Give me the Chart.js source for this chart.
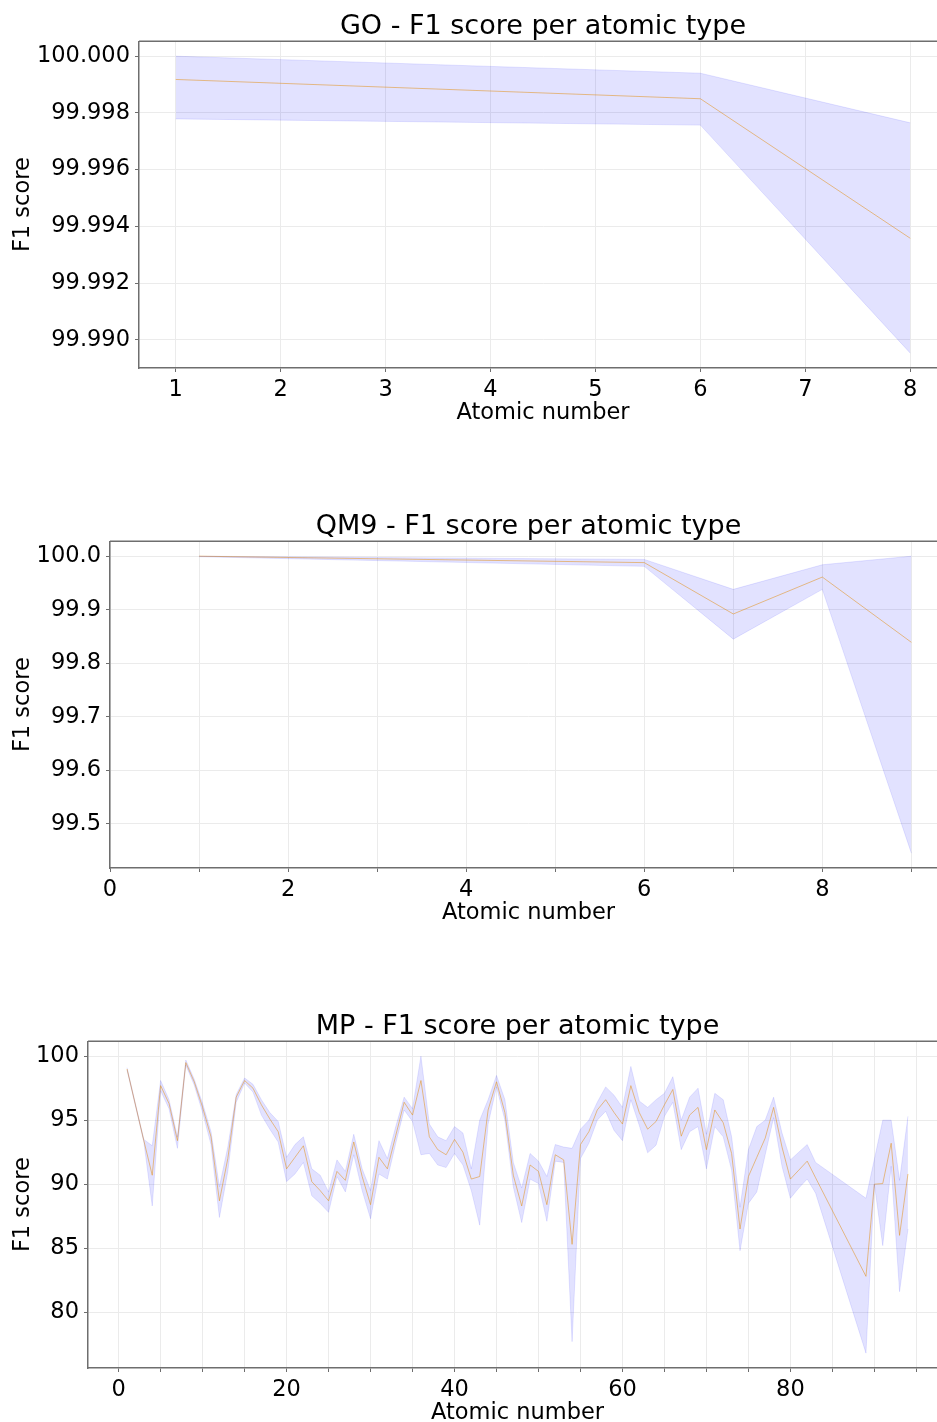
<!DOCTYPE html>
<html>
<head>
<meta charset="utf-8">
<script src="https://cdn.jsdelivr.net/npm/chart.js@4.4.1/dist/chart.umd.min.js"></script>
<style>
  html, body { margin: 0; padding: 0; background: #fff; overflow: hidden; width: 937px; height: 1422px; }
  .panel { position: absolute; left: 0; width: 960px; height: 432px; }
</style>
</head>
<body>
<div class="panel" style="top:0"><canvas id="chart-go" width="960" height="432"></canvas></div>
<div class="panel" style="top:500px"><canvas id="chart-qm9" width="960" height="432"></canvas></div>
<div class="panel" style="top:1000px"><canvas id="chart-mp" width="960" height="432"></canvas></div>
<script>
// GO
const go_z = [1, 6, 8];
const go_mean = [99.99918, 99.99850, 99.99358];
const go_upper = [100.00000, 99.99940, 99.99765];
const go_lower = [99.99779, 99.99757, 99.98953];
const go_x_ticks = [1, 2, 3, 4, 5, 6, 7, 8];
const go_x_minor = [];
const go_y_ticks = [99.990, 99.992, 99.994, 99.996, 99.998, 100.000];

// QM9
const qm9_z = [1, 6, 7, 8, 9];
const qm9_mean = [100.0, 99.988, 99.892, 99.961, 99.839];
const qm9_upper = [100.0, 99.994, 99.938, 99.984, 100.0];
const qm9_lower = [99.999, 99.981, 99.845, 99.938, 99.445];
const qm9_x_ticks = [0, 2, 4, 6, 8];
const qm9_x_minor = [1, 3, 5, 7, 9];
const qm9_y_ticks = [99.5, 99.6, 99.7, 99.8, 99.9, 100.0];

// MP
const mp_z = [1, 3, 4, 5, 6, 7, 8, 9, 10,
  11, 12, 13, 14, 15, 16, 17, 18, 19, 20,
  21, 22, 23, 24, 25, 26, 27, 28, 29, 30,
  31, 32, 33, 34, 35, 36, 37, 38, 39, 40,
  41, 42, 43, 44, 45, 46, 47, 48, 49, 50,
  51, 52, 53, 54, 55, 56, 57, 58, 59, 60,
  61, 62, 63, 64, 65, 66, 67, 68, 69, 70,
  71, 72, 73, 74, 75, 76, 77, 78, 79, 80,
  81, 82, 83,
  89, 90, 91, 92, 93, 94];
const mp_mean = [99.0, 93.4, 90.7, 97.7, 96.3, 93.4, 99.5, 98.0, 96.0,
  93.7, 88.7, 92.0, 96.8, 98.1, 97.5, 96.2, 95.1, 94.1, 91.2,
  92.1, 93.0, 90.2, 89.5, 88.7, 91.0, 90.3, 93.3, 90.6, 88.4,
  92.1, 91.2, 93.8, 96.4, 95.4, 98.1, 93.7, 92.7, 92.3, 93.5,
  92.5, 90.4, 90.6, 95.8, 98.0, 95.6, 90.7, 88.3, 91.5, 91.0,
  88.4, 92.3, 91.9, 85.3, 93.1, 94.1, 95.8, 96.6, 95.6, 94.7,
  97.7, 95.6, 94.3, 94.9, 96.2, 97.4, 93.75, 95.4, 96.0, 92.7,
  95.8, 94.8, 92.4, 86.5, 90.6, 92.1, 93.6, 96.0, 92.9, 90.4,
  91.1, 91.8, 90.5,
  82.8, 90.0, 90.05, 93.2, 86.0, 90.8];
const mp_upper = [99.1, 93.5, 93.0, 98.1, 96.6, 93.7, 99.7, 98.2, 96.3,
  94.1, 89.8, 92.9, 97.0, 98.3, 97.8, 96.6, 95.6, 94.9, 92.1,
  93.1, 93.7, 91.2, 90.7, 89.4, 91.9, 91.0, 93.9, 91.2, 89.5,
  93.4, 92.0, 94.5, 96.8, 95.9, 100.0, 94.7, 93.7, 93.4, 94.5,
  94.0, 91.2, 95.0, 96.6, 98.5, 96.6, 91.7, 89.7, 92.4, 91.8,
  90.6, 93.1, 92.9, 92.8, 94.3, 95.0, 96.4, 97.6, 96.95, 96.0,
  99.2, 96.5, 96.0, 96.6, 97.1, 98.4, 95.0, 96.8, 97.5, 93.9,
  97.1, 96.6, 93.7, 88.2, 92.7, 94.5, 95.0, 96.8, 94.0, 91.9,
  92.5, 93.1, 91.7,
  88.9, 91.95, 95.0, 95.0, 90.3, 95.3];
const mp_lower = [98.9, 93.3, 88.3, 97.3, 95.9, 92.8, 99.3, 97.75, 95.6,
  93.1, 87.4, 91.0, 96.4, 97.9, 97.2, 95.4, 94.3, 93.3, 90.2,
  90.8, 91.7, 89.1, 88.5, 87.8, 90.6, 89.4, 92.3, 89.5, 87.3,
  90.8, 90.4, 93.2, 95.8, 94.9, 92.3, 92.4, 91.5, 91.3, 92.4,
  91.5, 89.5, 86.8, 94.7, 97.6, 95.0, 89.8, 87.0, 90.4, 90.05,
  87.1, 91.8, 91.7, 77.7, 92.0, 93.2, 95.0, 95.7, 94.2, 93.4,
  96.6, 94.6, 92.45, 93.05, 95.3, 96.4, 92.7, 94.1, 94.5, 91.2,
  94.5, 93.7, 91.1, 84.8, 88.5, 89.4, 92.3, 95.2, 91.4, 88.9,
  89.7, 90.4, 89.3,
  76.8, 90.0, 85.2, 91.4, 81.6, 86.5];
const mp_x_ticks = [0, 20, 40, 60, 80];
const mp_x_minor = [5, 10, 15, 25, 30, 35, 45, 50, 55, 65, 70, 75, 85, 90, 95];
const mp_y_ticks = [80, 85, 90, 95, 100];

Chart.defaults.font.family = "'DejaVu Sans', sans-serif";

const FONT_TICK = { family: "'DejaVu Sans', sans-serif", size: 22.5 };
const SPINE = '#6e6e6e';

// top and right spine, like a matplotlib axes frame
const frameTop = {
  id: 'frameTop',
  afterDraw(chart) {
    const { ctx, chartArea: a } = chart;
    ctx.save();
    ctx.strokeStyle = SPINE;
    ctx.lineWidth = 1.5;
    ctx.beginPath();
    ctx.moveTo(a.left, a.top);
    ctx.lineTo(a.right, a.top);
    ctx.lineTo(a.right, a.bottom);
    ctx.stroke();
    ctx.restore();
  }
};

// 5% autoscale margin
function padded(lo, hi) {
  const m = (hi - lo) * 0.05;
  return [lo - m, hi + m];
}

function pts(xs, ys) {
  return xs.map((x, i) => ({ x: x, y: ys[i] }));
}

function createChart(id, title, z, mean, upper, lower, xTicks, xMinor, yTicks, decimals, axisLeft, xMinFixed) {
  const [xLo, xHi] = padded(Math.min(...z), Math.max(...z));
  const [yLo, yHi] = padded(Math.min(...lower), Math.max(...upper));
  const allX = xTicks.concat(xMinor).sort((a, b) => a - b);

  return new Chart(document.getElementById(id), {
    type: 'line',
    plugins: [frameTop],
    data: {
      datasets: [
        {
          label: 'upper',
          data: pts(z, upper),
          borderColor: 'rgba(0, 0, 255, 0.10)',
          borderWidth: 1,
          backgroundColor: 'rgba(0, 0, 255, 0.115)',
          fill: '+1',
          pointRadius: 0,
          tension: 0
        },
        {
          label: 'lower',
          data: pts(z, lower),
          borderColor: 'rgba(0, 0, 255, 0.10)',
          borderWidth: 1,
          fill: false,
          pointRadius: 0,
          tension: 0
        },
        {
          label: 'mean',
          data: pts(z, mean),
          borderColor: 'rgba(255, 165, 0, 0.55)',
          borderWidth: 1,
          fill: false,
          pointRadius: 0,
          tension: 0
        }
      ]
    },
    options: {
      responsive: false,
      animation: false,
      layout: { padding: { left: 0, right: 13, top: 0, bottom: 0 } },
      plugins: {
        legend: { display: false },
        tooltip: { enabled: false },
        title: {
          display: true,
          text: title,
          color: '#000',
          fullSize: false,
          font: { family: "'DejaVu Sans', sans-serif", size: 27, weight: 'normal', lineHeight: 1.05 },
          padding: { top: 13, bottom: 0 }
        }
      },
      scales: {
        x: {
          type: 'linear',
          min: xMinFixed !== undefined ? xMinFixed : xLo,
          max: xHi,
          afterBuildTicks: s => { s.ticks = allX.map(v => ({ value: v })); },
          afterFit: s => { s.height = 64; },
          ticks: {
            autoSkip: false,
            maxRotation: 0,
            padding: 5,
            color: '#000',
            font: FONT_TICK,
            callback: v => xTicks.includes(v) ? String(v) : ''
          },
          grid: { color: '#ebebeb', tickColor: SPINE, tickLength: 4, lineWidth: 1 },
          border: { color: SPINE, width: 1.5 },
          title: {
            display: true,
            text: 'Atomic number',
            color: '#000',
            font: FONT_TICK,
            padding: { top: 0, bottom: 5 }
          }
        },
        y: {
          min: yLo,
          max: yHi,
          afterBuildTicks: s => { s.ticks = yTicks.map(v => ({ value: v })); },
          afterFit: s => { s.width = axisLeft; },
          ticks: {
            padding: 5,
            color: '#000',
            font: FONT_TICK,
            callback: v => v.toFixed(decimals)
          },
          grid: { color: '#ebebeb', tickColor: SPINE, tickLength: 4, lineWidth: 1 },
          border: { color: SPINE, width: 1.5 },
          title: {
            display: true,
            text: 'F1 score',
            color: '#000',
            font: FONT_TICK,
            padding: { top: 10, bottom: 0 }
          }
        }
      }
    }
  });
}

createChart('chart-go', 'GO - F1 score per atomic type', go_z, go_mean, go_upper, go_lower,
  go_x_ticks, go_x_minor, go_y_ticks, 3, 139);
createChart('chart-qm9', 'QM9 - F1 score per atomic type', qm9_z, qm9_mean, qm9_upper, qm9_lower,
  qm9_x_ticks, qm9_x_minor, qm9_y_ticks, 1, 110, 0);
createChart('chart-mp', 'MP - F1 score per atomic type', mp_z, mp_mean, mp_upper, mp_lower,
  mp_x_ticks, mp_x_minor, mp_y_ticks, 0, 88);
</script>
</body>
</html>
